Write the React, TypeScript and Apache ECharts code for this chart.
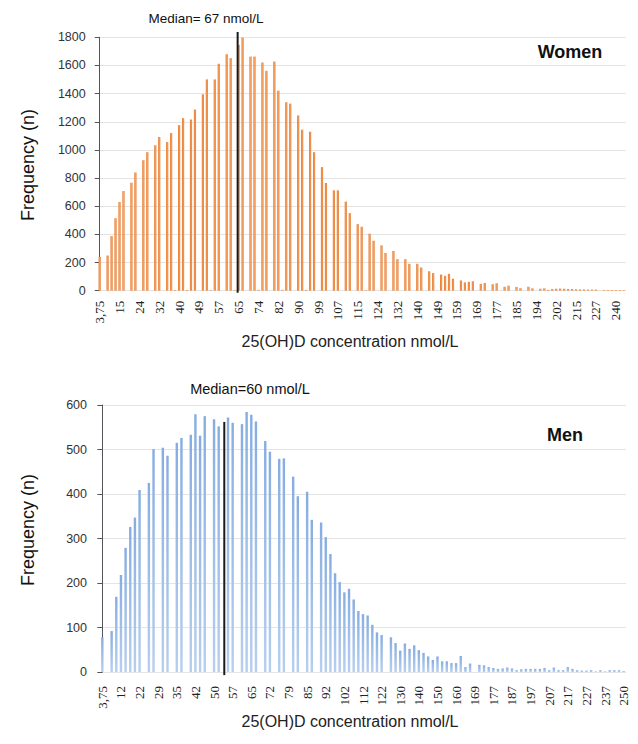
import React, { useEffect, useRef } from "react";
import * as echarts from "echarts";

// Women: tick labels (every 5th category) and bar values (133 categories)
const womenTickLabels = ["3,75","15","24","32","40","49","57","65","74","82","90","99","107","115","124","132","140","149","159","169","177","185","194","202","215","227","240"];
const womenValues = [
  240,0,250,388,515,630,708,0,767,840,
  0,927,984,0,1033,1092,0,1056,1120,5,
  1176,1226,5,1216,1287,0,1395,1501,4,1501,
  1612,0,1680,1652,4,1746,1798,0,1663,1663,
  6,1621,1562,0,1628,1421,6,1339,1329,0,
  1245,1144,5,1129,984,0,878,765,0,713,
  713,0,633,551,0,473,454,4,405,355,
  0,322,268,0,282,224,0,224,191,0,
  191,165,0,138,125,0,115,106,120,85,
  0,73,59,63,67,0,49,55,0,46,
  53,0,28,36,0,27,18,0,28,17,
  0,14,17,6,12,14,15,14,12,12,
  10,9,9,8,8,8,0,5,5,5,
  5,5,4
];
const womenMedianPos = 34.75; // position of median line (category index space)
const womenMedianLabel = "Median= 67 nmol/L";

// Men: tick labels (every 4th category) and bar values (113 categories)
const menTickLabels = ["3,75","12","22","29","35","42","50","57","65","72","79","85","92","102","112","122","130","140","150","160","169","177","187","197","207","217","227","237","250"];
const menValues = [
  78,0,92,169,218,279,326,347,409,0,
  425,501,0,504,486,0,515,526,0,533,
  579,531,575,0,568,552,0,572,560,0,
  557,584,578,563,0,519,495,0,479,480,
  0,439,395,0,405,342,0,336,303,265,
  222,202,179,187,163,137,130,127,106,89,
  83,0,78,65,48,64,52,60,49,43,
  35,27,35,24,24,20,20,36,11,19,
  0,16,15,11,9,7,8,10,8,4,
  6,7,7,7,7,9,4,10,4,4,
  11,7,4,3,3,4,1,4,1,4,
  4,4,2
];
const menMedianPos = 26.2;
const menMedianLabel = "Median=60 nmol/L";

const xTitle = "25(OH)D concentration nmol/L";
const yTitle = "Frequency (n)";

export default function App() {
  const ref = useRef<HTMLDivElement>(null);
  useEffect(() => {
    if (!ref.current) return;
    const chart = echarts.init(ref.current, null, { renderer: "svg" });
    const wCats = womenValues.map((_, i) => String(i));
    const mCats = menValues.map((_, i) => String(i));
    const labelStyle = { fontFamily: "Liberation Serif", fontSize: 13, color: "#222" };
    const yLabel = { fontFamily: "Liberation Sans", fontSize: 12.5, color: "#333", formatter: (v: number) => String(v) };
    const grid = { lineStyle: { color: "#E4E4E4", width: 1 } };
    const orange = new echarts.graphic.LinearGradient(0, 0, 1, 0, [
      { offset: 0, color: "#E5701F" },
      { offset: 0.5, color: "#F4A161" },
      { offset: 1, color: "#E87A2C" },
    ]);
    const blue = new echarts.graphic.LinearGradient(0, 0, 0, 1, [
      { offset: 0, color: "#86ADE1" },
      { offset: 1, color: "#B7CFEF" },
    ]);
    chart.setOption({
      animation: false,
      grid: [
        { left: 97.7, top: 37.3, width: 528, height: 253.4 },
        { left: 100, top: 405, width: 526, height: 267 },
      ],
      xAxis: [
        {
          type: "category", gridIndex: 0, data: wCats,
          axisLine: { show: false }, axisTick: { show: false },
          axisLabel: { ...labelStyle, rotate: 90, interval: 0, margin: 10,
            formatter: (_v: string, i: number) => (i % 5 === 0 ? womenTickLabels[i / 5] ?? "" : "") },
        },
        {
          type: "category", gridIndex: 1, data: mCats,
          axisLine: { show: false }, axisTick: { show: false },
          axisLabel: { ...labelStyle, rotate: 90, interval: 0, margin: 14,
            formatter: (_v: string, i: number) => (i % 4 === 0 ? menTickLabels[i / 4] ?? "" : "") },
        },
        { type: "value", gridIndex: 0, min: -0.5, max: womenValues.length - 0.5, show: false },
        { type: "value", gridIndex: 1, min: -0.5, max: menValues.length - 0.5, show: false },
      ],
      yAxis: [
        { type: "value", gridIndex: 0, min: 0, max: 1800, interval: 200,
          axisLabel: { ...yLabel, margin: 12 }, splitLine: grid },
        { type: "value", gridIndex: 1, min: 0, max: 600, interval: 100,
          axisLabel: { ...yLabel, margin: 13 }, splitLine: grid },
      ],
      series: [
        { type: "bar", xAxisIndex: 0, yAxisIndex: 0, data: womenValues,
          barCategoryGap: "45%", itemStyle: { color: orange } },
        { type: "bar", xAxisIndex: 1, yAxisIndex: 1, data: menValues,
          barCategoryGap: "48%", itemStyle: { color: blue } },
        { type: "line", xAxisIndex: 2, yAxisIndex: 0, clip: false, symbol: "none",
          data: [[womenMedianPos, -15], [womenMedianPos, 1838]],
          lineStyle: { color: "#1A1A1A", width: 2 } },
        { type: "line", xAxisIndex: 3, yAxisIndex: 1, clip: false, symbol: "none",
          data: [[menMedianPos, -7], [menMedianPos, 562]],
          lineStyle: { color: "#1A1A1A", width: 2 } },
      ],
      graphic: [
        { type: "text", x: 206, y: 18, style: { text: womenMedianLabel, fontFamily: "Liberation Sans", fontSize: 13.5, fill: "#111", align: "center", verticalAlign: "middle" } },
        { type: "text", x: 250, y: 389, style: { text: menMedianLabel, fontFamily: "Liberation Sans", fontSize: 14.5, fill: "#111", align: "center", verticalAlign: "middle" } },
        { type: "text", x: 570, y: 52, style: { text: "Women", fontFamily: "Liberation Sans", fontWeight: "bold", fontSize: 18, fill: "#111", align: "center", verticalAlign: "middle" } },
        { type: "text", x: 565, y: 435, style: { text: "Men", fontFamily: "Liberation Sans", fontWeight: "bold", fontSize: 18, fill: "#111", align: "center", verticalAlign: "middle" } },
        { type: "text", x: 350, y: 341, style: { text: xTitle, fontFamily: "Liberation Sans", fontSize: 16, fill: "#222", align: "center", verticalAlign: "middle" } },
        { type: "text", x: 350, y: 721, style: { text: xTitle, fontFamily: "Liberation Sans", fontSize: 16, fill: "#222", align: "center", verticalAlign: "middle" } },
        { type: "text", x: 28, y: 165, rotation: Math.PI / 2, style: { text: yTitle, fontFamily: "Liberation Sans", fontSize: 18, fill: "#111", align: "center", verticalAlign: "middle" } },
        { type: "text", x: 28, y: 530, rotation: Math.PI / 2, style: { text: yTitle, fontFamily: "Liberation Sans", fontSize: 18, fill: "#111", align: "center", verticalAlign: "middle" } },
      ],
    });
    return () => chart.dispose();
  }, []);
  return <div ref={ref} style={{ position: "absolute", left: 0, top: 0, width: 638, height: 744, background: "#fff" }} />;
}
